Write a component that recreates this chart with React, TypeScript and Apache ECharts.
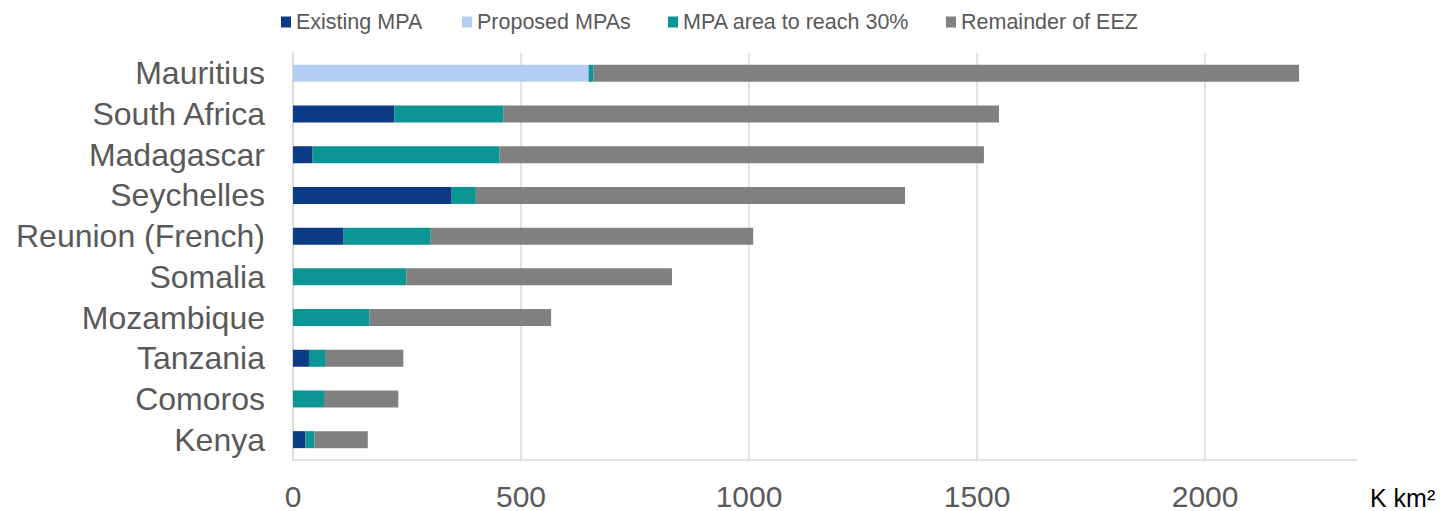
import React, { useEffect, useRef } from "react";
import * as echarts from "echarts";

const categories = [
  "Mauritius",
  "South Africa",
  "Madagascar",
  "Seychelles",
  "Reunion (French)",
  "Somalia",
  "Mozambique",
  "Tanzania",
  "Comoros",
  "Kenya",
];
const existingMPA = [0, 222, 43, 348, 111, 0, 0, 35, 0, 27];
const proposedMPAs = [648, 0, 0, 0, 0, 0, 0, 0, 0, 0];
const areaToReach30 = [11, 240, 410, 53, 191, 249, 168, 37, 68, 20];
const remainderEEZ = [1547, 1086, 1062, 941, 707, 582, 398, 170, 163, 117];
const seriesNames = ["Existing MPA", "Proposed MPAs", "MPA area to reach 30%", "Remainder of EEZ"];
const seriesColors = ["#0D3A84", "#B4CDF5", "#0B9595", "#808080"];
const unitLabel = "K km²";

const FONT = "'Liberation Sans', Arial, sans-serif";
const legendLefts = [276, 457, 663, 941];

export default function App() {
  const ref = useRef<HTMLDivElement>(null);
  useEffect(() => {
    if (!ref.current) return;
    const chart = echarts.init(ref.current, undefined, { renderer: "svg" });
    const dataSets = [existingMPA, proposedMPAs, areaToReach30, remainderEEZ];
    chart.setOption({
      animation: false,
      backgroundColor: "#ffffff",
      legend: seriesNames.map((name, i) => ({
        data: [name],
        left: legendLefts[i],
        top: 6,
        itemWidth: 10,
        itemHeight: 11,
        icon: "rect",
        textStyle: { fontFamily: FONT, fontSize: 21.5, color: "#595959" },
      })),
      grid: { left: 293, right: 96, top: 53, bottom: 49, containLabel: false },
      xAxis: {
        type: "value",
        min: 0,
        max: 2333,
        interval: 500,
        axisLine: { show: true, lineStyle: { color: "#D9D9D9", width: 1.5 } },
        axisTick: { show: false },
        splitLine: { show: true, showMaxLine: false, lineStyle: { color: "#D9D9D9", width: 1.5 } },
        axisLabel: {
          fontFamily: FONT,
          fontSize: 30,
          color: "#595959",
          margin: 21,
          showMaxLabel: false,
          formatter: (v: number) => (v % 500 === 0 ? String(v) : ""),
        },
      },
      yAxis: {
        type: "category",
        inverse: true,
        data: categories,
        axisLine: { show: true, lineStyle: { color: "#D9D9D9", width: 1.5 } },
        axisTick: { show: false },
        axisLabel: { fontFamily: FONT, fontSize: 32, color: "#595959", margin: 28, interval: 0 },
      },
      series: seriesNames.map((name, i) => ({
        name,
        type: "bar",
        stack: "total",
        barWidth: 17,
        data: dataSets[i],
        itemStyle: { color: seriesColors[i] },
        emphasis: { disabled: true },
      })),
      graphic: [
        {
          type: "text",
          x: 1370,
          y: 498,
          style: {
            text: unitLabel,
            fontFamily: FONT,
            fontSize: 25,
            fill: "#000000",
            verticalAlign: "middle",
          },
        },
      ],
    });
    return () => chart.dispose();
  }, []);
  return (
    <div
      ref={ref}
      style={{ position: "fixed", left: 0, top: 0, width: 1453, height: 511, background: "#fff" }}
    />
  );
}
